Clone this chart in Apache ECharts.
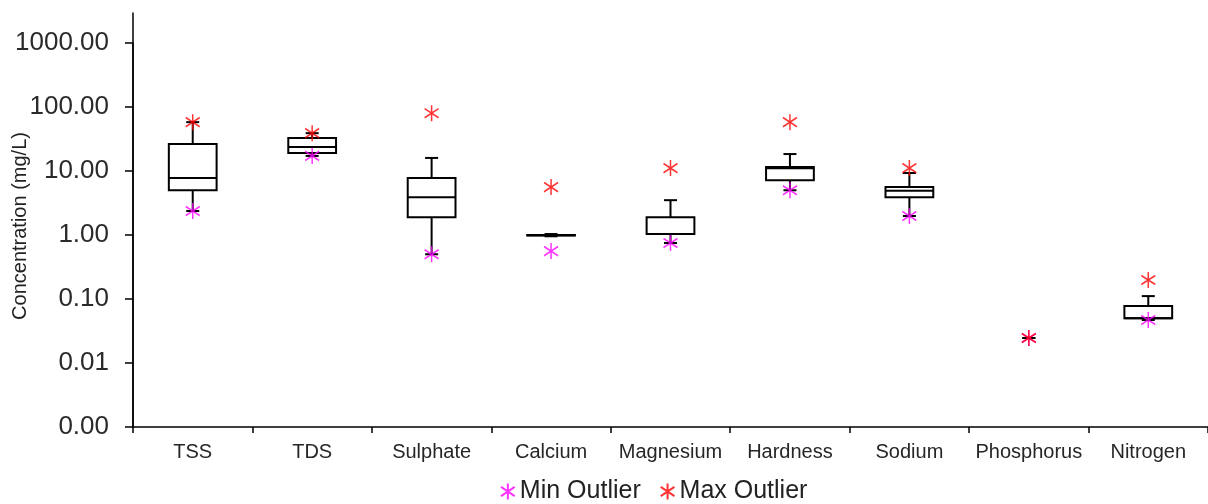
<!DOCTYPE html>
<html>
<head>
<meta charset="utf-8">
<script src="https://cdn.jsdelivr.net/npm/echarts@6/dist/echarts.min.js"></script>
<style>
html,body{margin:0;padding:0;background:#fff;}
#chart{width:1208px;height:504px;}
</style>
</head>
<body>
<div id="chart"></div>
<script>
// ---- data ----
const categories = ['TSS', 'TDS', 'Sulphate', 'Calcium', 'Magnesium', 'Hardness', 'Sodium', 'Phosphorus', 'Nitrogen'];
const whiskerLow  = [2.37, 17.2, 0.5, 0.955, 0.75, 5.0, 1.98, 0.0246, 0.047];
const q1          = [5.0, 19.1, 1.9, 0.98, 1.04, 7.2, 3.9, null, 0.05];
const median      = [7.8, 23.7, 3.9, 0.99, 1.04, 11.0, 4.9, null, 0.05];
const q3          = [26.4, 32.8, 7.8, 1.0, 1.9, 11.5, 5.6, null, 0.078];
const whiskerHigh = [58, 39, 16, 1.035, 3.5, 18.4, 9.3, 0.0246, 0.111];
const minOutlier  = [2.37, 17.2, 0.5, 0.56, 0.75, 5.0, 1.98, 0.0246, 0.047];
const maxOutlier  = [58, 39, 80, 5.6, 11.1, 58, 11.1, 0.0246, 0.198];
const yMin = 0.001, yMax = 1000;
const yTitle = 'Concentration (mg/L)';
const legendNames = ['Min Outlier', 'Max Outlier'];

const FONT = "'Liberation Sans', Arial, sans-serif";
const STAR = 'path://M6,0L6,14M0,3L12,11M0,11L12,3';

const boxData = categories.map((c, i) => [i, whiskerLow[i], q1[i], median[i], q3[i], whiskerHigh[i]]);

function renderItem(params, api) {
  const i = api.value(0);
  const x = api.coord([i, 1])[0];
  const band = api.coord([1, 1])[0] - api.coord([0, 1])[0];
  const bw = band * 0.4;
  const cw = 13;
  const has = v => v != null && !isNaN(v) && v > 0;
  const Y = v => api.coord([i, v])[1];
  const wl = api.value(1), a = api.value(2), m = api.value(3), b = api.value(4), wh = api.value(5);
  const st = { stroke: '#000', lineWidth: 2, fill: null };
  const ch = [];
  const line = (x1, y1, x2, y2) => ch.push({ type: 'line', shape: { x1, y1, x2, y2 }, style: st });
  if (has(a) && has(b)) {
    const yt = Y(b), yb = Y(a);
    if (has(wh)) line(x, Y(wh), x, yt);
    if (has(wl)) line(x, yb, x, Y(wl));
    ch.push({ type: 'rect', shape: { x: x - bw / 2, y: yt, width: bw, height: Math.max(yb - yt, 0.5) }, style: { stroke: '#000', lineWidth: 2, fill: 'none' } });
    if (has(m)) line(x - bw / 2, Y(m), x + bw / 2, Y(m));
  }
  if (has(wh)) line(x - cw / 2, Y(wh), x + cw / 2, Y(wh));
  if (has(wl)) line(x - cw / 2, Y(wl), x + cw / 2, Y(wl));
  return { type: 'group', children: ch };
}

const chart = echarts.init(document.getElementById('chart'), null, { renderer: 'canvas' });
chart.setOption({
  animation: false,
  backgroundColor: '#fff',
  textStyle: { fontFamily: FONT },
  grid: [
    { left: 133, right: 0, top: 43, bottom: 77, containLabel: false, outerBoundsMode: 'none' },
    { left: 133, right: 0, top: 13, bottom: 77, containLabel: false, outerBoundsMode: 'none' }
  ],
  legend: {
    data: [
      { name: legendNames[0], icon: STAR },
      { name: legendNames[1], icon: STAR }
    ],
    left: 495,
    top: 474,
    itemWidth: 14,
    itemHeight: 16,
    itemGap: 19,
    textStyle: { fontSize: 25, color: '#222', fontFamily: FONT }
  },
  xAxis: [
    {
      type: 'category',
      data: categories,
      gridIndex: 0,
      boundaryGap: true,
      axisLine: { lineStyle: { color: '#000', width: 1.5 } },
      axisTick: { show: true, length: 6, lineStyle: { color: '#000', width: 1.5 }, alignWithLabel: false },
      axisLabel: { fontSize: 20, color: '#262626', margin: 15, fontFamily: FONT, interval: 0 },
      splitLine: { show: false }
    },
    { type: 'value', gridIndex: 1, show: false }
  ],
  yAxis: [
    {
      type: 'log',
      gridIndex: 0,
      min: yMin,
      max: yMax,
      logBase: 10,
      name: yTitle,
      nameLocation: 'middle',
      nameRotate: 90,
      nameGap: 103,
      nameMoveOverlap: false,
      nameTextStyle: { fontSize: 20, color: '#222', fontFamily: FONT, padding: [0, 0, 0, 18] },
      axisLine: { show: true, lineStyle: { color: '#000', width: 1.5 } },
      axisTick: { show: true, length: 8, lineStyle: { color: '#000', width: 1.5 } },
      axisLabel: { fontSize: 26, color: '#2a2a2a', margin: 24, fontFamily: FONT,
        formatter: v => Number(v).toFixed(2) },
      splitLine: { show: false }
    },
    {
      type: 'value', gridIndex: 1, min: 0, max: 1,
      axisLine: { show: true, lineStyle: { color: '#000', width: 1.5 } },
      axisTick: { show: false }, axisLabel: { show: false }, splitLine: { show: false }
    }
  ],
  series: [
    {
      type: 'custom',
      name: 'box',
      xAxisIndex: 0, yAxisIndex: 0,
      renderItem: renderItem,
      encode: { x: 0, y: [1, 2, 3, 4, 5] },
      data: boxData,
      z: 2
    },
    {
      type: 'scatter',
      name: legendNames[0],
      xAxisIndex: 0, yAxisIndex: 0,
      symbol: STAR,
      symbolSize: [14, 16],
      itemStyle: { color: '#ff00ff', borderColor: '#ff00ff', borderWidth: 1.6 },
      data: categories.map((c, i) => [c, minOutlier[i]]),
      z: 3
    },
    {
      type: 'scatter',
      name: legendNames[1],
      xAxisIndex: 0, yAxisIndex: 0,
      symbol: STAR,
      symbolSize: [14, 16],
      itemStyle: { color: '#ff0000', borderColor: '#ff0000', borderWidth: 1.6 },
      data: categories.map((c, i) => [c, maxOutlier[i]]),
      z: 4
    }
  ]
});
</script>
</body>
</html>
